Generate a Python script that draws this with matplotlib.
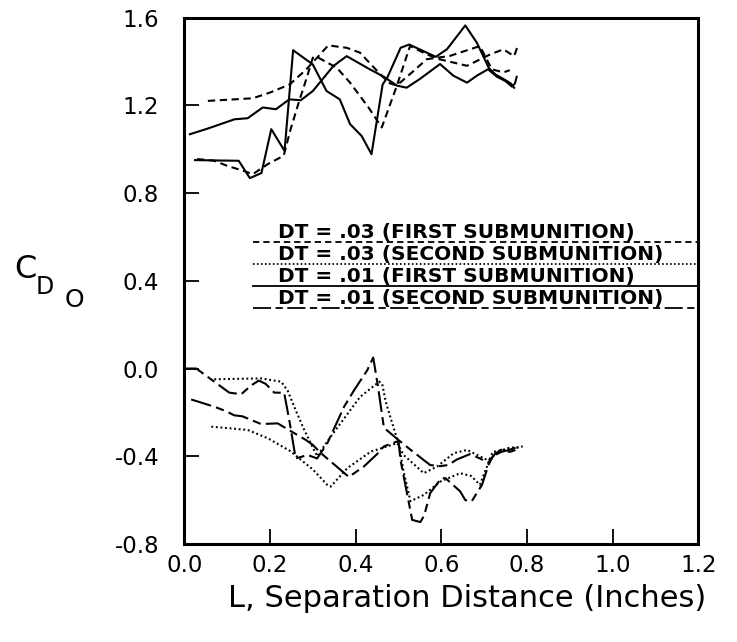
import numpy as np
from matplotlib import pyplot as plt

plt.rcParams['font.family'] = 'DejaVu Sans'
plt.rcParams['axes.unicode_minus'] = False

# upper curves
s1X = [0.013, 0.055, 0.117, 0.148, 0.183, 0.214, 0.245, 0.272, 0.30, 0.348, 0.379, 0.433, 0.466, 0.496, 0.519, 0.55, 0.597, 0.628, 0.66, 0.683, 0.709, 0.73, 0.75, 0.765, 0.772, 0.776]
s1Y = [1.068, 1.094, 1.136, 1.141, 1.19, 1.182, 1.227, 1.223, 1.265, 1.379, 1.424, 1.364, 1.33, 1.29, 1.28, 1.32, 1.388, 1.335, 1.303, 1.335, 1.364, 1.33, 1.31, 1.285, 1.30, 1.33]

s2X = [0.025, 0.127, 0.153, 0.18, 0.203, 0.234, 0.254, 0.30, 0.332, 0.363, 0.387, 0.414, 0.437, 0.463, 0.474, 0.505, 0.525, 0.587, 0.613, 0.656, 0.683, 0.711, 0.726, 0.745, 0.762, 0.77]
s2Y = [0.95, 0.947, 0.868, 0.891, 1.091, 0.992, 1.451, 1.386, 1.265, 1.227, 1.114, 1.06, 0.977, 1.295, 1.327, 1.462, 1.477, 1.421, 1.455, 1.564, 1.485, 1.37, 1.341, 1.32, 1.30, 1.28]

d1X = [0.055, 0.117, 0.16, 0.20, 0.246, 0.285, 0.31, 0.336, 0.379, 0.41, 0.461, 0.48, 0.496, 0.535, 0.566, 0.62, 0.69, 0.718, 0.745, 0.76]
d1Y = [1.22, 1.227, 1.232, 1.258, 1.295, 1.364, 1.417, 1.473, 1.462, 1.44, 1.334, 1.30, 1.29, 1.356, 1.41, 1.425, 1.47, 1.364, 1.35, 1.36]

d2X = [0.03, 0.07, 0.10, 0.14, 0.16, 0.195, 0.232, 0.248, 0.267, 0.287, 0.30, 0.31, 0.356, 0.387, 0.43, 0.461, 0.496, 0.527, 0.558, 0.589, 0.66, 0.683, 0.714, 0.745, 0.77, 0.78]
d2Y = [0.955, 0.947, 0.924, 0.90, 0.886, 0.932, 0.97, 1.09, 1.212, 1.333, 1.417, 1.42, 1.371, 1.303, 1.19, 1.099, 1.288, 1.47, 1.44, 1.413, 1.38, 1.402, 1.432, 1.455, 1.424, 1.478]

# lower curves
laX = [0.0, 0.028, 0.07, 0.105, 0.133, 0.156, 0.174, 0.19, 0.21, 0.233, 0.245, 0.26, 0.288, 0.31, 0.334, 0.373, 0.396, 0.427, 0.441, 0.452, 0.466, 0.50, 0.528, 0.574, 0.597, 0.616, 0.636, 0.667, 0.69, 0.71, 0.725, 0.74, 0.76, 0.775]
laY = [0.0, 0.0, -0.06, -0.11, -0.117, -0.077, -0.055, -0.07, -0.11, -0.11, -0.235, -0.41, -0.394, -0.41, -0.34, -0.174, -0.10, -0.008, 0.05, -0.08, -0.27, -0.326, -0.37, -0.44, -0.445, -0.44, -0.415, -0.39, -0.41, -0.43, -0.39, -0.37, -0.38, -0.37]

lbX = [0.016, 0.07, 0.098, 0.116, 0.136, 0.179, 0.218, 0.264, 0.284, 0.30, 0.319, 0.384, 0.419, 0.45, 0.466, 0.50, 0.505, 0.532, 0.551, 0.56, 0.574, 0.60, 0.61, 0.644, 0.656, 0.671, 0.695, 0.71, 0.72, 0.74, 0.76, 0.775]
lbY = [-0.141, -0.174, -0.195, -0.213, -0.218, -0.253, -0.25, -0.303, -0.326, -0.348, -0.386, -0.494, -0.447, -0.39, -0.355, -0.33, -0.42, -0.69, -0.70, -0.67, -0.568, -0.50, -0.50, -0.56, -0.60, -0.605, -0.53, -0.44, -0.40, -0.38, -0.37, -0.36]

paX = [0.07, 0.179, 0.226, 0.241, 0.26, 0.28, 0.295, 0.31, 0.342, 0.41, 0.455, 0.462, 0.47, 0.489, 0.50, 0.512, 0.528, 0.559, 0.598, 0.644, 0.67, 0.69, 0.70, 0.72, 0.75, 0.79]
paY = [-0.049, -0.045, -0.06, -0.10, -0.19, -0.28, -0.34, -0.40, -0.31, -0.13, -0.06, -0.07, -0.15, -0.273, -0.34, -0.47, -0.605, -0.576, -0.515, -0.477, -0.49, -0.53, -0.48, -0.38, -0.37, -0.355]

pbX = [0.063, 0.148, 0.195, 0.247, 0.30, 0.336, 0.342, 0.38, 0.435, 0.45, 0.497, 0.512, 0.559, 0.59, 0.629, 0.66, 0.69, 0.71, 0.73, 0.76, 0.785]
pbY = [-0.265, -0.28, -0.318, -0.376, -0.46, -0.535, -0.538, -0.455, -0.379, -0.37, -0.34, -0.394, -0.477, -0.447, -0.386, -0.371, -0.40, -0.42, -0.38, -0.36, -0.36]

legendLabels = ['DT = .03 (FIRST SUBMUNITION)', 'DT = .03 (SECOND SUBMUNITION)',
                'DT = .01 (FIRST SUBMUNITION)', 'DT = .01 (SECOND SUBMUNITION)']

dashed = (0, (3.5, 2.2))
dotted = (0, (0.9, 1.3))
longdash = (0, (10, 2.5, 4, 2.5))
styles = [dashed, dotted, '-', longdash]

fig = plt.figure(figsize=(7.37, 6.42), dpi=100)
ax = fig.add_axes([0.2501, 0.1526, 0.6974, 0.8201])

ax.plot(s1X, s1Y, color='black', lw=1.5, linestyle='-')
ax.plot(s2X, s2Y, color='black', lw=1.5, linestyle='-')
ax.plot(d1X, d1Y, color='black', lw=1.5, linestyle=dashed)
ax.plot(d2X, d2Y, color='black', lw=1.5, linestyle=dashed)
ax.plot(laX, laY, color='black', lw=1.5, linestyle=longdash)
ax.plot(lbX, lbY, color='black', lw=1.5, linestyle=longdash)
ax.plot(paX, paY, color='black', lw=1.5, linestyle=dotted)
ax.plot(pbX, pbY, color='black', lw=1.5, linestyle=dotted)

ax.set_xlim(0, 1.2)
ax.set_ylim(-0.8, 1.6)
ax.set_xticks(np.arange(0, 1.21, 0.2))
ax.set_yticks(np.arange(-0.8, 1.61, 0.4))
ax.set_xticklabels(['%.1f' % v for v in np.arange(0, 1.21, 0.2)])
ax.set_yticklabels(['%.1f' % v for v in np.arange(-0.8, 1.61, 0.4)])
ax.tick_params(axis='both', direction='in', length=11, width=1.3, labelsize=16.5)
ax.tick_params(axis='x', pad=7)
ax.tick_params(axis='y', pad=18)
for sp in ax.spines.values():
    sp.set_linewidth(2.2)

# legend: text sitting on its line sample
lineY = [0.5736, 0.5318, 0.4900, 0.4482]
for lab, ls, ly in zip(legendLabels, styles, lineY):
    ax.text(0.182, ly + 0.007, lab, transform=ax.transAxes, fontsize=14.5, fontweight='bold',
            ha='left', va='baseline')
    ax.plot([0.134, 0.998], [ly, ly], transform=ax.transAxes, color='black', lw=1.3, linestyle=ls)

# y label C_Do
fig.text(25 / 737, 1 - 269 / 642, 'C', fontsize=23, ha='center', va='center')
fig.text(45 / 737, 1 - 287 / 642, 'D', fontsize=17, ha='center', va='center')
fig.text(74 / 737, 1 - 300 / 642, 'O', fontsize=18, ha='center', va='center')

fig.text(467 / 737, 1 - 607 / 642, 'L, Separation Distance (Inches)', fontsize=22,
         ha='center', va='baseline')

plt.savefig('out.png', dpi=100)
